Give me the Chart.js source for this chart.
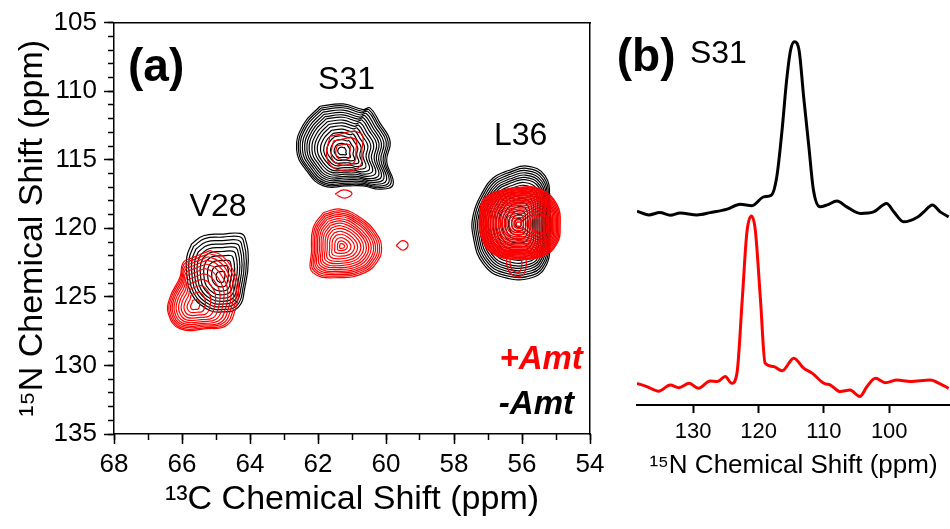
<!DOCTYPE html>
<html>
<head>
<meta charset="utf-8">
<script src="https://cdn.jsdelivr.net/npm/chart.js@4.4.1/dist/chart.umd.min.js"></script>
<style>
  html, body { margin: 0; padding: 0; background: #fff; }
  #wrap { position: relative; width: 950px; height: 529px; overflow: hidden; }
  canvas { position: absolute; top: 0; }
  #contourChart { left: 0; }
  #sliceChart { left: 600px; }
</style>
</head>
<body>
<div id="wrap">
  <canvas id="contourChart" width="620" height="529"></canvas>
  <canvas id="sliceChart" width="350" height="529"></canvas>
</div>
<script>
const fontFamily = "'Liberation Sans', Arial, Helvetica, sans-serif";
Chart.defaults.font.family = fontFamily;
Chart.defaults.color = '#000';

const RED = '#ff0000';
const BLACK = '#000000';

// axis ticks (ppm)
const c13Ticks = [68, 66, 64, 62, 60, 58, 56, 54];
const n15Ticks = [105, 110, 115, 120, 125, 130, 135];
const sliceTicks = [130, 120, 110, 100];

// 2D NCA contours: outer contour outline [13C, 15N], peak centre, and relative size of each contour level
const v28BlackOutline = [[65.72,121.14],[65.37,120.54],[64.79,120.42],[64.29,120.37],[64.15,120.66],[64.05,122.36],[64.15,124.3],[64.34,125.75],[64.83,126.1],[65.28,125.86],[65.72,124.78],[65.86,123.32],[65.86,122.1]];
const v28BlackCenter = [64.85, 123.6];
const v28BlackLevels = [1, 0.93, 0.85, 0.77, 0.69, 0.6, 0.5, 0.39, 0.27, 0.14];

const v28RedOutline = [[65.18,121.63],[64.83,121.99],[64.49,123.08],[64.34,124.3],[64.44,125.99],[64.69,127.08],[65.28,127.32],[66.06,127.32],[66.4,126.23],[66.35,125.02],[66.06,123.57],[65.96,122.48],[65.67,122.12]];
const v28RedCenter = [65.65, 125.7];
const v28RedLevels = [1, 0.95, 0.89, 0.83, 0.76, 0.68, 0.59, 0.49, 0.38, 0.26, 0.13];

const s31BlackOutline = [[61.94,111.1],[61.26,110.93],[60.67,111.34],[60.47,111.22],[60.18,112.31],[59.88,113.64],[59.98,115.09],[59.79,116.79],[60.18,117.15],[60.67,116.91],[61.16,116.91],[61.84,116.91],[62.33,115.82],[62.63,114.25],[62.43,112.43]];
const s31BlackCenter = [61.3, 114.4];
const s31BlackLevels = [1, 0.96, 0.92, 0.87, 0.82, 0.77, 0.72, 0.66, 0.6, 0.54, 0.47, 0.4, 0.33, 0.25, 0.17, 0.09];

const s31RedUpperOutline = [[61.65,113.28],[60.76,113.04],[60.71,114.37],[60.81,115.58],[61.45,115.7],[61.74,114.85]];
const s31RedUpperCenter = [61.3, 114.45];
const s31RedUpperLevels = [1, 0.7, 0.4];

const s31RedDotOutline = [[61.5,117.5],[61.25,117.2],[61.0,117.45],[61.2,117.8]];
const s31RedDotCenter = [61.25, 117.5];
const s31RedDotLevels = [1];

const s31RedOutline = [[61.84,118.85],[61.35,118.6],[60.76,119.21],[60.27,120.42],[60.13,121.51],[60.27,122.48],[60.62,123.23],[61.35,123.6],[62.15,123.23],[62.19,121.63],[62.14,119.94]];
const s31RedCenter = [61.3, 121.3];
const s31RedLevels = [1, 0.95, 0.9, 0.85, 0.8, 0.74, 0.68, 0.62, 0.55, 0.48, 0.4, 0.32, 0.23, 0.14, 0.07];

const sideRedOutline = [[59.7,121.25],[59.52,120.9],[59.35,121.2],[59.5,121.6]];
const sideRedCenter = [59.52, 121.25];
const sideRedLevels = [1];

const l36BlackOutline = [[56.45,115.82],[55.86,115.46],[55.32,116.18],[55.18,118.0],[55.18,121.14],[55.27,122.6],[55.67,123.57],[56.55,123.57],[57.14,122.6],[57.43,120.66],[57.43,118.97],[57.14,117.27],[56.84,116.31]];
const l36BlackCenter = [56.1, 119.6];
const l36BlackLevels = [1, 0.96, 0.92, 0.88, 0.84, 0.8, 0.76, 0.71, 0.66, 0.61, 0.55, 0.49, 0.43, 0.36, 0.29, 0.22, 0.15, 0.08];

const l36RedOutline = [[56.84,117.4],[56.16,117.03],[55.47,117.15],[54.98,118.24],[54.88,119.94],[54.98,121.14],[55.37,122.0],[56.16,122.24],[56.84,121.87],[57.19,120.66],[57.24,118.97],[57.14,117.88]];
const l36RedCenter = [56.1, 119.7];
const l36RedLevels = [1, 0.97, 0.94, 0.91, 0.88, 0.85, 0.82, 0.79, 0.76, 0.72, 0.68, 0.64, 0.6, 0.56, 0.51, 0.46, 0.41, 0.36, 0.3, 0.24, 0.18, 0.12, 0.06];

const l36RedTailOutline = [[56.45,121.99],[55.96,121.87],[55.94,123.32],[56.25,123.45],[56.43,122.84]];
const l36RedTailCenter = [56.2, 122.7];
const l36RedTailLevels = [1, 0.6];

// 1D 15N slices through S31 (ppm, intensity above baseline)
const blackPpm = [138.6,136.8,135.1,133.5,132.0,129.4,127.4,124.8,122.8,121.0,119.2,118.0,117.2,116.4,115.7,115.1,114.5,113.8,113.1,112.3,111.6,110.6,109.5,108.0,106.5,104.4,102.4,100.4,99.3,97.8,95.7,94.7,93.4,92.2,90.9];
const blackIntensity = [0.5,-0.5,0.1,-0.6,0.0,-0.5,0.1,1.0,2.3,1.9,4.2,4.7,9.5,21.6,34.6,42.4,44.6,42.4,30.3,17.3,6.0,1.6,2.1,3.1,1.6,-0.1,0.3,2.5,0.3,-2.3,-1.1,0.3,2.1,0.3,-1.0];
const redPpm = [138.6,137.1,135.3,133.5,132.2,130.6,129.2,127.4,126.3,125.1,124.1,123.3,122.5,121.8,121.1,120.5,119.7,119.0,117.7,116.4,114.6,113.1,111.8,110.0,109.0,107.5,106.0,104.5,103.4,102.1,100.6,98.8,96.8,93.7,92.2,90.9];
const redIntensity = [0.15,-0.7,-1.9,-0.3,-1.0,0.15,-1.15,0.75,0.6,1.9,0.15,2.8,21.8,39.2,43.7,40.1,21.8,5.4,4.5,3.4,6.7,4.1,2.8,0.15,-0.3,-2.0,-1.6,-3.3,-0.7,1.45,0.3,1.0,0.6,1.0,0.0,-1.15];
const blackOffset = 50;
const redOffset = 5.5;

const contourPeaks = [
  { outline: v28BlackOutline, center: v28BlackCenter, levels: v28BlackLevels, color: BLACK },
  { outline: s31BlackOutline, center: s31BlackCenter, levels: s31BlackLevels, color: BLACK },
  { outline: l36BlackOutline, center: l36BlackCenter, levels: l36BlackLevels, color: BLACK },
  { outline: v28RedOutline, center: v28RedCenter, levels: v28RedLevels, color: RED },
  { outline: s31RedUpperOutline, center: s31RedUpperCenter, levels: s31RedUpperLevels, color: RED },
  { outline: s31RedDotOutline, center: s31RedDotCenter, levels: s31RedDotLevels, color: RED },
  { outline: s31RedOutline, center: s31RedCenter, levels: s31RedLevels, color: RED },
  { outline: sideRedOutline, center: sideRedCenter, levels: sideRedLevels, color: RED },
  { outline: l36RedOutline, center: l36RedCenter, levels: l36RedLevels, color: RED, width: 1.4 },
  { outline: l36RedTailOutline, center: l36RedTailCenter, levels: l36RedTailLevels, color: RED }
];

// one closed line per contour level, shrunk toward the peak centre
function contourDatasets(peak) {
  const [cx, cy] = peak.center;
  return peak.levels.map(f => {
    const pts = peak.outline.map(([x, y]) => ({ x: cx + f * (x - cx), y: cy + f * (y - cy) }));
    pts.push(pts[0]);
    return {
      data: pts,
      showLine: true,
      borderColor: peak.color,
      borderWidth: peak.width || 1.2,
      pointRadius: 0,
      tension: 0.45,
      fill: false,
      order: peak.color === RED ? 0 : 1
    };
  });
}

// text drawn at data coordinates
function textPlugin(items) {
  return {
    id: 'panelText',
    afterDatasetsDraw(chart) {
      const { ctx, scales: { x, y } } = chart;
      ctx.save();
      items.forEach(item => {
        ctx.font = item.font;
        ctx.fillStyle = item.color || BLACK;
        ctx.textAlign = item.align || 'center';
        ctx.textBaseline = 'middle';
        ctx.fillText(item.text, x.getPixelForValue(item.x), y.getPixelForValue(item.y));
      });
      ctx.restore();
    }
  };
}

const labelFont = '32px ' + fontFamily;
const panelFont = 'bold 46px ' + fontFamily;
const amtFont = 'italic bold 33px ' + fontFamily;

const contourLabels = [
  { text: '(a)', x: 66.76, y: 108.3, font: panelFont },
  { text: 'S31', x: 61.16, y: 109.2, font: labelFont },
  { text: 'V28', x: 64.94, y: 118.45, font: labelFont },
  { text: 'L36', x: 56.04, y: 113.3, font: labelFont },
  { text: '+Amt', x: 54.21, y: 129.6, font: amtFont, color: RED, align: 'right' },
  { text: '-Amt', x: 54.47, y: 132.9, font: amtFont, color: BLACK, align: 'right' }
];

const sliceLabels = [
  { text: '(b)', x: 137.2, y: 90.4, font: panelFont },
  { text: 'S31', x: 130.5, y: 91.4, font: labelFont, align: 'left' }
];

const majorGrid = { drawOnChartArea: false, tickLength: 10, tickColor: BLACK, tickWidth: 1.5 };
const minorGrid = { drawOnChartArea: false, tickLength: 6, tickColor: BLACK, tickWidth: 1.5 };
const frame = { color: BLACK, width: 1.5 };

new Chart(document.getElementById('contourChart'), {
  type: 'scatter',
  data: { datasets: contourPeaks.flatMap(contourDatasets) },
  options: {
    responsive: false,
    animation: false,
    layout: { padding: { top: 21, right: 30, bottom: 0, left: 0 } },
    plugins: { legend: { display: false }, tooltip: { enabled: false } },
    scales: {
      x: {
        type: 'linear', position: 'bottom', weight: 1,
        min: 54, max: 68, reverse: true,
        afterBuildTicks: s => { s.ticks = c13Ticks.map(v => ({ value: v })); },
        ticks: { padding: 5, font: { size: 26 }, color: BLACK },
        grid: majorGrid,
        border: frame,
        title: { display: true, text: '¹³C Chemical Shift (ppm)', font: { size: 34 }, color: BLACK, padding: { top: 0, bottom: 9 } },
        afterFit: s => { s.height = 95; }
      },
      xMinor: {
        type: 'linear', position: 'bottom', weight: 0,
        min: 54, max: 68, reverse: true,
        ticks: { display: false, stepSize: 1 },
        grid: minorGrid,
        border: { display: false },
        afterFit: s => { s.height = 0; }
      },
      xTop: {
        type: 'linear', position: 'top',
        min: 54, max: 68, reverse: true,
        ticks: { display: false }, grid: { display: false },
        border: frame,
        afterFit: s => { s.height = 0; }
      },
      y: {
        type: 'linear', position: 'left', weight: 1,
        min: 105, max: 135, reverse: true,
        afterBuildTicks: s => { s.ticks = n15Ticks.map(v => ({ value: v })); },
        ticks: { padding: 7, font: { size: 26 }, color: BLACK },
        grid: majorGrid,
        border: frame,
        title: { display: true, text: '¹⁵N Chemical Shift (ppm)', font: { size: 34 }, color: BLACK, padding: { top: 12, bottom: 0 } },
        afterFit: s => { s.width = 114; }
      },
      yMinor: {
        type: 'linear', position: 'left', weight: 0,
        min: 105, max: 135, reverse: true,
        ticks: { display: false, stepSize: 1 },
        grid: minorGrid,
        border: { display: false },
        afterFit: s => { s.width = 0; }
      },
      yRight: {
        type: 'linear', position: 'right',
        min: 105, max: 135, reverse: true,
        ticks: { display: false }, grid: { display: false },
        border: frame,
        afterFit: s => { s.width = 0; }
      }
    }
  },
  plugins: [textPlugin(contourLabels)]
});

const sliceLine = (ppm, intensity, offset, color) => ({
  data: ppm.map((p, i) => ({ x: p, y: intensity[i] + offset })),
  showLine: true,
  borderColor: color,
  borderWidth: 3,
  pointRadius: 0,
  cubicInterpolationMode: 'monotone',
  fill: false
});

new Chart(document.getElementById('sliceChart'), {
  type: 'scatter',
  data: {
    datasets: [
      sliceLine(blackPpm, blackIntensity, blackOffset, BLACK),
      sliceLine(redPpm, redIntensity, redOffset, RED)
    ]
  },
  options: {
    responsive: false,
    animation: false,
    layout: { padding: { top: 21, right: 0, bottom: 0, left: 37 } },
    plugins: { legend: { display: false }, tooltip: { enabled: false } },
    scales: {
      x: {
        type: 'linear', position: 'bottom',
        min: 90.7, max: 138.6, reverse: true,
        afterBuildTicks: s => { s.ticks = sliceTicks.map(v => ({ value: v })); },
        ticks: { padding: 6, font: { size: 22 }, color: BLACK },
        grid: { drawOnChartArea: false, tickLength: 8, tickColor: BLACK, tickWidth: 2 },
        border: { color: BLACK, width: 2 },
        title: { display: true, text: '¹⁵N Chemical Shift (ppm)', font: { size: 26 }, color: BLACK, padding: { top: 0, bottom: 48 } },
        afterFit: s => { s.height = 124; }
      },
      y: { display: false, min: 0, max: 100 }
    }
  },
  plugins: [textPlugin(sliceLabels)]
});
</script>
</body>
</html>
